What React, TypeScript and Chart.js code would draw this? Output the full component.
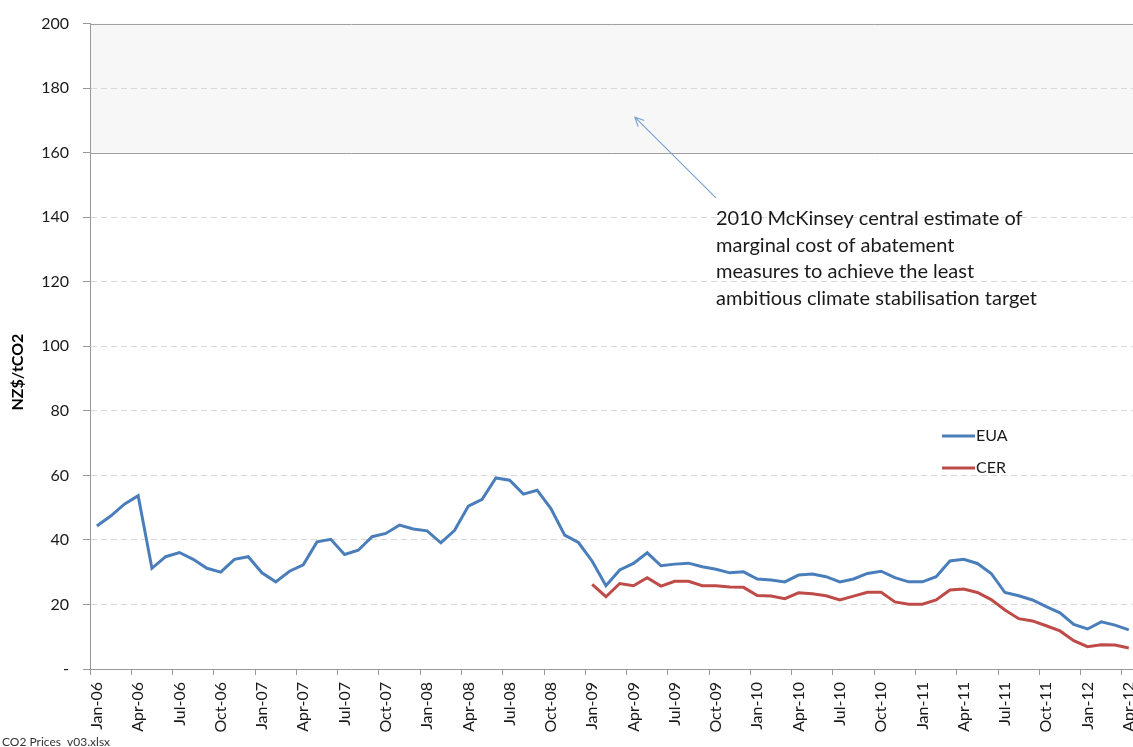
import React, { useEffect, useRef } from 'react';
import { Chart, registerables } from 'chart.js';

Chart.register(...registerables);

const categories: string[] = [
  'Jan-06','Feb-06','Mar-06','Apr-06','May-06','Jun-06','Jul-06','Aug-06','Sep-06','Oct-06','Nov-06','Dec-06',
  'Jan-07','Feb-07','Mar-07','Apr-07','May-07','Jun-07','Jul-07','Aug-07','Sep-07','Oct-07','Nov-07','Dec-07',
  'Jan-08','Feb-08','Mar-08','Apr-08','May-08','Jun-08','Jul-08','Aug-08','Sep-08','Oct-08','Nov-08','Dec-08',
  'Jan-09','Feb-09','Mar-09','Apr-09','May-09','Jun-09','Jul-09','Aug-09','Sep-09','Oct-09','Nov-09','Dec-09',
  'Jan-10','Feb-10','Mar-10','Apr-10','May-10','Jun-10','Jul-10','Aug-10','Sep-10','Oct-10','Nov-10','Dec-10',
  'Jan-11','Feb-11','Mar-11','Apr-11','May-11','Jun-11','Jul-11','Aug-11','Sep-11','Oct-11','Nov-11','Dec-11',
  'Jan-12','Feb-12','Mar-12','Apr-12',
];

const euaValues: (number | null)[] = [
  44.3, 47.4, 51.1, 53.7, 31.2, 34.8, 36.1, 34.0, 31.2, 30.0, 34.0, 34.8,
  29.8, 27.0, 30.3, 32.3, 39.4, 40.2, 35.5, 36.8, 41.0, 42.0, 44.6, 43.4,
  42.8, 39.1, 43.0, 50.5, 52.6, 59.2, 58.5, 54.2, 55.4, 49.7, 41.5, 39.2,
  33.4, 25.8, 30.7, 32.7, 36.0, 32.0, 32.5, 32.8, 31.7, 30.9, 29.8, 30.1,
  27.9, 27.6, 27.0, 29.1, 29.4, 28.6, 27.0, 27.9, 29.6, 30.3, 28.3, 27.0,
  27.0, 28.6, 33.5, 34.0, 32.7, 29.6, 23.7, 22.7, 21.4, 19.3, 17.4, 13.8,
  12.4, 14.6, 13.6, 12.1,
];

const cerValues: (number | null)[] = [
  null, null, null, null, null, null, null, null, null, null, null, null,
  null, null, null, null, null, null, null, null, null, null, null, null,
  null, null, null, null, null, null, null, null, null, null, null, null,
  26.2, 22.4, 26.5, 25.8, 28.3, 25.7, 27.2, 27.2, 25.8, 25.8, 25.4, 25.3,
  22.8, 22.6, 21.8, 23.6, 23.3, 22.7, 21.4, 22.6, 23.8, 23.8, 20.8, 20.1,
  20.1, 21.4, 24.5, 24.8, 23.7, 21.5, 18.3, 15.6, 14.9, 13.4, 11.8, 8.8,
  6.9, 7.5, 7.4, 6.5,
];

const yTicks = { min: 0, max: 200, step: 20 };
const bandRange = [160, 200];
const annotationLines = [
  '2010 McKinsey central estimate of',
  'marginal cost of abatement',
  'measures to achieve the least',
  'ambitious climate stabilisation target',
];
// annotation anchors in data units: [category index, value]
const arrowTail = [45.0, 146];
const arrowHead = [39.1, 171];
const textAnchor = [45.0, 139.6];

const yTitle = 'NZ$/tCO2';
const footer = 'CO2 Prices  v03.xlsx';

const EUA_COLOR = '#4a7ebb';
const CER_COLOR = '#be4b48';
const FONT = 'Lato, "Open Sans", sans-serif';

const decorPlugin = {
  id: 'decor',
  beforeDraw(chart: any) {
    const { ctx, chartArea, scales } = chart;
    const y = scales.y;
    const top = y.getPixelForValue(bandRange[1]);
    const bot = y.getPixelForValue(bandRange[0]);
    ctx.save();
    ctx.fillStyle = '#ffffff';
    ctx.fillRect(0, 0, chart.width, chart.height);
    ctx.fillStyle = '#f7f7f7';
    ctx.fillRect(chartArea.left, top, chartArea.right - chartArea.left, bot - top);
    ctx.restore();
  },
  beforeDatasetsDraw(chart: any) {
    const { ctx, chartArea, scales } = chart;
    const y = scales.y;
    const top = y.getPixelForValue(bandRange[1]);
    const bot = y.getPixelForValue(bandRange[0]);
    ctx.save();
    ctx.strokeStyle = '#a0a0a0';
    ctx.lineWidth = 1;
    ctx.beginPath();
    ctx.moveTo(chartArea.left, Math.round(bot) + 0.5);
    ctx.lineTo(chartArea.right, Math.round(bot) + 0.5);
    ctx.moveTo(chartArea.left, Math.round(top) + 0.5);
    ctx.lineTo(chartArea.right, Math.round(top) + 0.5);
    ctx.stroke();
    ctx.restore();
  },
  afterDraw(chart: any) {
    const { ctx, scales } = chart;
    const x = scales.x;
    const y = scales.y;
    const px = (i: number) => x.getPixelForValue(0) + (x.getPixelForValue(1) - x.getPixelForValue(0)) * i;
    ctx.save();
    // arrow
    const x1 = px(arrowTail[0]);
    const y1 = y.getPixelForValue(arrowTail[1]);
    const x2 = px(arrowHead[0]);
    const y2 = y.getPixelForValue(arrowHead[1]);
    ctx.strokeStyle = '#7ba2d0';
    ctx.lineWidth = 1.2;
    ctx.beginPath();
    ctx.moveTo(x1, y1);
    ctx.lineTo(x2, y2);
    const ang = Math.atan2(y2 - y1, x2 - x1);
    const hl = 10;
    ctx.moveTo(x2 - hl * Math.cos(ang - 0.45), y2 - hl * Math.sin(ang - 0.45));
    ctx.lineTo(x2, y2);
    ctx.lineTo(x2 - hl * Math.cos(ang + 0.45), y2 - hl * Math.sin(ang + 0.45));
    ctx.stroke();
    // annotation text
    ctx.fillStyle = '#1a1a1a';
    ctx.font = `20px ${FONT}`;
    ctx.textAlign = 'left';
    ctx.textBaseline = 'middle';
    const tx = px(textAnchor[0]);
    const ty = y.getPixelForValue(textAnchor[1]);
    annotationLines.forEach((l, i) => ctx.fillText(l, tx, ty + i * 26.7));
    // legend
    const items = chart.data.datasets;
    const lx = chart.chartArea.left + 852;
    const ly = y.getPixelForValue(72.2);
    items.forEach((ds: any, i: number) => {
      const yy = ly + i * 32;
      ctx.strokeStyle = ds.borderColor;
      ctx.lineWidth = 3;
      ctx.beginPath();
      ctx.moveTo(lx, yy);
      ctx.lineTo(lx + 33, yy);
      ctx.stroke();
      ctx.fillStyle = '#1a1a1a';
      ctx.font = `16px ${FONT}`;
      ctx.fillText(ds.label, lx + 34, yy);
    });
    // y title
    ctx.save();
    ctx.translate(18, y.getPixelForValue(92));
    ctx.rotate(-Math.PI / 2);
    ctx.textAlign = 'center';
    ctx.font = `bold 16px ${FONT}`;
    ctx.fillStyle = '#000';
    ctx.fillText(yTitle, 0, 0);
    ctx.restore();
    // footer
    ctx.font = `12px ${FONT}`;
    ctx.fillStyle = '#333';
    ctx.textAlign = 'left';
    ctx.textBaseline = 'alphabetic';
    ctx.fillText(footer, 2, 746);
    ctx.restore();
  },
};

export default function App() {
  const ref = useRef<HTMLCanvasElement>(null);
  useEffect(() => {
    if (!ref.current) return;
    const chart = new Chart(ref.current, {
      type: 'line',
      data: {
        labels: categories,
        datasets: [
          { label: 'EUA', data: euaValues, borderColor: EUA_COLOR, backgroundColor: EUA_COLOR, borderWidth: 3, pointRadius: 0, tension: 0, spanGaps: false },
          { label: 'CER', data: cerValues, borderColor: CER_COLOR, backgroundColor: CER_COLOR, borderWidth: 3, pointRadius: 0, tension: 0, spanGaps: false },
        ],
      },
      options: {
        responsive: false,
        animation: false,
        layout: { padding: { top: 23, right: 3.5, left: 0, bottom: 0 } },
        plugins: { legend: { display: false }, tooltip: { enabled: false } },
        scales: {
          x: {
            type: 'category',
            offset: true,
            grid: {
              offset: true,
              drawOnChartArea: false,
              drawTicks: true,
              tickLength: 6,
              color: 'rgba(0,0,0,0)',
              tickColor: (c: any) => (c.index % 3 === 0 ? '#999999' : 'rgba(0,0,0,0)'),
            },
            border: { display: true, color: '#999999', width: 1 },
            ticks: {
              autoSkip: false,
              maxRotation: 90,
              minRotation: 90,
              padding: 7,
              color: '#1a1a1a',
              font: { family: FONT, size: 16 },
              callback: (_v: any, i: number) => (i % 3 === 0 ? categories[i] : ''),
            },
            afterFit: (s: any) => { s.height = 78; },
          },
          y: {
            min: yTicks.min,
            max: yTicks.max,
            ticks: {
              stepSize: yTicks.step,
              padding: 14,
              color: '#1a1a1a',
              font: { family: FONT, size: 16 },
              callback: (v: any) => (v === 0 ? '-' : String(v)),
            },
            grid: {
              color: (c: any) => (c.tick && (c.tick.value === 0 || c.tick.value === 200 || c.tick.value === 160) ? 'rgba(0,0,0,0)' : '#d9d9d9'),
              tickColor: '#999999',
              tickLength: 7,
              drawTicks: true,
            },
            border: { display: true, color: '#999999', width: 1, dash: [6, 4] },
            afterFit: (s: any) => { s.width = 90; },
          },
        },
      },
      plugins: [decorPlugin],
    } as any);
    return () => chart.destroy();
  }, []);
  return (
    <div style={{ position: 'fixed', left: 0, top: 0, width: 1133, height: 747, overflow: 'hidden', background: '#fff' }}>
      <canvas ref={ref} width={1155} height={747} style={{ display: 'block' }} />
    </div>
  );
}
